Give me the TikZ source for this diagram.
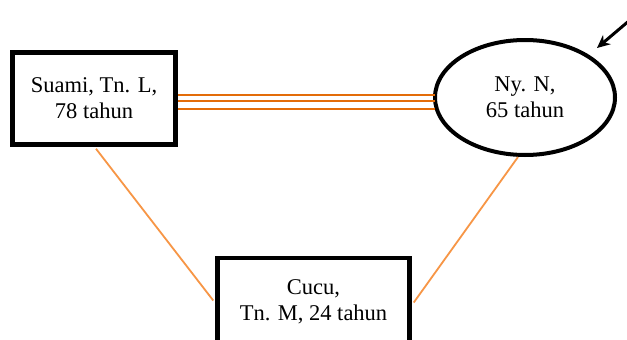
\documentclass[tikz,border=0pt]{standalone}
\usepackage{fontspec}
\setmainfont{Liberation Serif}
\usetikzlibrary{shapes.geometric,arrows.meta,calc}
\definecolor{dorange}{HTML}{E36C09}
\definecolor{lorange}{HTML}{F79646}
\begin{document}
\begin{tikzpicture}[x=1pt,y=-1pt,
  txt/.style={font=\fontsize{22.5}{26}\selectfont},
  box/.style={draw=black,line width=4.5pt,rectangle,inner sep=0pt,align=center,txt},
  oval/.style={draw=black,line width=4pt,ellipse,inner sep=0pt,align=center,txt},
  tri/.style={draw=dorange,line width=2pt},
  thin/.style={draw=lorange,line width=1.8pt},
  pointer/.style={draw=black,line width=3pt,-{Stealth[length=13pt,width=12pt]}}]
\useasboundingbox (0,0) rectangle (627,340);
\clip (0,0) rectangle (627,340);
\fill[white] (0,0) rectangle (627,340);
\node[box,minimum width=163pt,minimum height=92pt] (lb) at (94,98.5) {Suami, Tn. L,\\78 tahun};
\node[oval,minimum width=180pt,minimum height=115pt] (ell) at (525,97.5) {Ny. N,\\65 tahun};
\node[box,minimum width=192pt,minimum height=170pt,anchor=north] (cb) at (313.5,255.5) {};
\node[txt,align=center,anchor=north] (ct) at (313.5,276) {Cucu,\\Tn. M, 24 tahun};
\draw[tri] ($(lb.east)+(0,-3.5)$) -- ($(ell.west)+(2,-2.5)$);
\draw[tri] ($(lb.east)+(0,2.5)$) -- ($(ell.west)+(2,3.5)$);
\draw[tri] ($(lb.east)+(0,10)$) -- ($(ell.west)+(2,11)$);
\draw[thin] ($(lb.south)+(2,2)$) -- ($(cb.north west)+(-2,45)$);
\draw[thin] ($(ell.south)+(-7,0)$) -- ($(cb.north east)+(2,47)$);
\coordinate (pa) at (630,20);
\coordinate (pb) at (597,48);
\draw[pointer] (pa) -- (pb);
\end{tikzpicture}
\end{document}
